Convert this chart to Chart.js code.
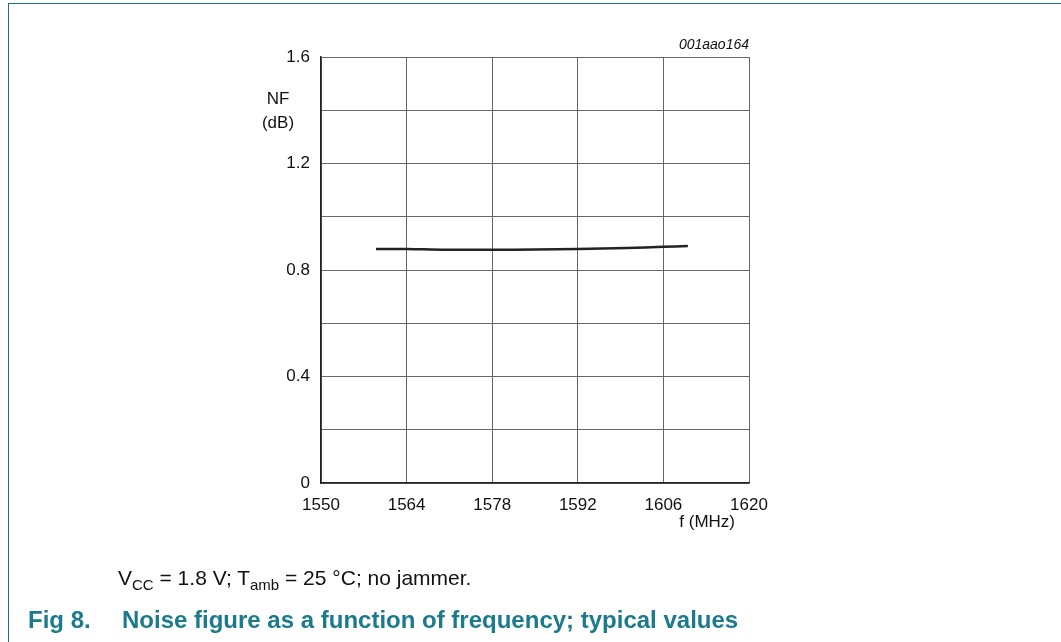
<!DOCTYPE html>
<html>
<head>
<meta charset="utf-8">
<script src="https://cdn.jsdelivr.net/npm/chart.js@4"></script>
<style>
  body { margin: 0; background: #fff; font-family: "Liberation Sans", Arial, sans-serif; }
  #wrap { position: relative; width: 1061px; height: 642px; overflow: hidden; }
  #frame { position: absolute; left: 8px; top: 3px; right: -2px; bottom: -2px;
           border-left: 1.5px solid #1f6f8b; border-top: 1.5px solid #1f6f8b; }
  canvas { position: absolute; left: 0; top: 0; }
  .cond { position: absolute; left: 118px; top: 566px; font-size: 21px; line-height: 24px; color: #111; white-space: nowrap; }
  .cond sub { font-size: 15px; vertical-align: -5px; line-height: 0; }
  .fig { position: absolute; left: 28px; top: 606px; font-size: 24px; line-height: 28px; font-weight: bold; color: #1b7a8c; }
  .fig span { position: absolute; left: 94px; white-space: nowrap; }
</style>
</head>
<body>
<div id="wrap">
  <div id="frame"></div>
  <canvas id="chart" width="1061" height="642"></canvas>
  <div class="cond">V<sub>CC</sub> = 1.8 V; T<sub>amb</sub> = 25 °C; no jammer.</div>
  <div class="fig">Fig 8.<span>Noise figure as a function of frequency; typical values</span></div>
</div>
<script>
// данные графика
const freq = [1559, 1564, 1570, 1578, 1585, 1592, 1600, 1606, 1610];
const nf = [0.879, 0.879, 0.876, 0.876, 0.877, 0.879, 0.883, 0.887, 0.890];
const xTicks = [1550, 1564, 1578, 1592, 1606, 1620];
const yTicks = [0, 0.4, 0.8, 1.2, 1.6];

// подписи осей и код рисунка
const axisText = {
  id: 'axisText',
  afterDraw(chart) {
    const { ctx, chartArea } = chart;
    ctx.save();
    ctx.fillStyle = '#111';
    ctx.textAlign = 'center';
    ctx.textBaseline = 'middle';
    ctx.font = '17px "Liberation Sans", Arial, sans-serif';
    ctx.fillText('NF', 278, 99);
    ctx.fillText('(dB)', 278, 123);
    ctx.textAlign = 'right';
    ctx.fillText('f (MHz)', 735, 522);
    ctx.font = 'italic 14px "Liberation Sans", Arial, sans-serif';
    ctx.fillText('001aao164', chartArea.right, 45);
    ctx.restore();
  }
};

const font = { family: '"Liberation Sans", Arial, sans-serif', size: 17 };

const ctx = document.getElementById('chart').getContext('2d');
new Chart(ctx, {
  type: 'line',
  data: {
    datasets: [{
      data: freq.map((f, i) => ({ x: f, y: nf[i] })),
      borderColor: '#222',
      borderWidth: 2.5,
      pointRadius: 0,
      tension: 0.4,
      fill: false
    }]
  },
  options: {
    responsive: false,
    animation: false,
    layout: { padding: { left: 321 - 60, top: 57, right: 1061 - 749, bottom: 642 - 483 - 40 } },
    plugins: { legend: { display: false }, tooltip: { enabled: false } },
    scales: {
      x: {
        type: 'linear',
        min: 1550, max: 1620,
        afterFit: s => { s.height = 40; },
        afterBuildTicks: s => { s.ticks = xTicks.map(v => ({ value: v })); },
        grid: { color: '#666', lineWidth: 1, drawTicks: false },
        border: { color: '#222', width: 1.5 },
        ticks: { color: '#111', padding: 12, maxRotation: 0, font,
                 callback: v => String(v) }
      },
      y: {
        min: 0, max: 1.6,
        afterFit: s => { s.width = 60; },
        ticks: {
          stepSize: 0.2, color: '#111', padding: 11, font,
          callback: v => yTicks.some(t => Math.abs(t - v) < 1e-6) ? String(Math.round(v * 10) / 10) : ''
        },
        grid: { color: '#666', lineWidth: 1, drawTicks: false },
        border: { color: '#222', width: 1.5 }
      }
    }
  },
  plugins: [axisText]
});
</script>
</body>
</html>
